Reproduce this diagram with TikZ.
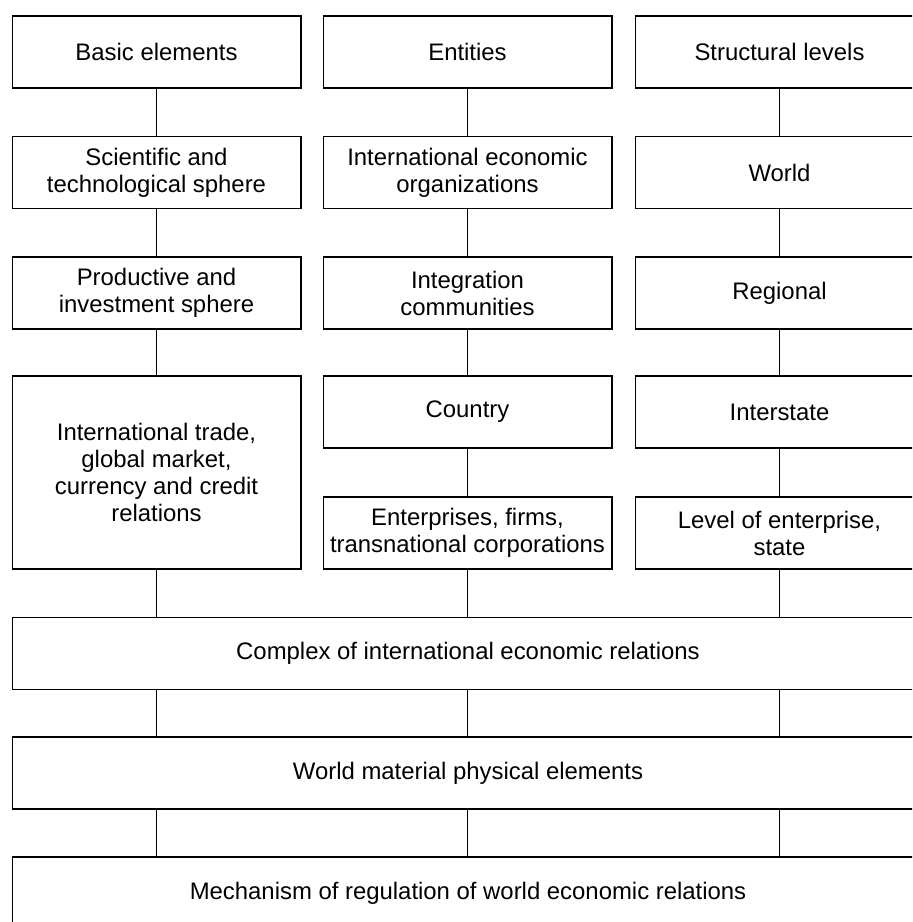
\documentclass[tikz,border=0pt]{standalone}
\usepackage{fontspec}
\setmainfont{Liberation Sans}
\begin{document}
\begin{tikzpicture}[x=0.02cm,y=-0.02cm]
        \tikzset{box/.style={draw,line width=0.6pt,align=center,inner sep=0pt,
                minimum width=5.78cm,minimum height=1.44cm,
                font=\fontsize{13.6}{15.4}\selectfont},
            widebox/.style={box,minimum width=18.24cm},
            link/.style={draw,line width=0.6pt}}
        \useasboundingbox (0,0) rectangle (912,922);
        \clip (0,0) rectangle (912,922);
        % three columns
        \node[box] (basic) at (156.5,52) {Basic elements};
        \node[box] (entities) at (467.5,52) {Entities};
        \node[box] (levels) at (779.5,52) {Structural levels};
        \node[box] (science) at (156.5,172.5) {Scientific and\\technological sphere};
        \node[box] (orgs) at (467.5,172.5) {International economic\\organizations};
        \node[box] (world) at (779.5,172.5) {World};
        \node[box] (production) at (156.5,293) {Productive and\\investment sphere};
        \node[box] (integration) at (467.5,293) {Integration\\communities};
        \node[box] (regional) at (779.5,293) {Regional};
        \node[box,minimum height=3.86cm] (trade) at (156.5,472.5)
            {International trade,\\global market,\\currency and credit\\relations};
        \node[box] (country) at (467.5,412) {Country};
        \node[box] (interstate) at (779.5,412) {Interstate};
        \node[box] (firms) at (467.5,533) {Enterprises, firms,\\transnational corporations};
        \node[box] (enterprise) at (779.5,533) {Level of enterprise,\\state};
        % wide boxes
        \node[widebox] (complex) at (468,653.5) {Complex of international economic relations};
        \node[widebox] (material) at (468,773) {World material physical elements};
        \node[widebox] (regulation) at (468,893) {Mechanism of regulation of world economic relations};
        % links
        \path[link] (basic) -- (science) -- (production) -- (trade)
            (trade.south) -- (trade.south |- complex.north);
        \path[link] (entities) -- (orgs) -- (integration) -- (country) -- (firms)
            (firms.south) -- (firms.south |- complex.north);
        \path[link] (levels) -- (world) -- (regional) -- (interstate) -- (enterprise)
            (enterprise.south) -- (enterprise.south |- complex.north);
        \foreach \col in {trade,firms,enterprise} {
            \path[link] (complex.south -| \col.south) -- (material.north -| \col.south)
                (material.south -| \col.south) -- (regulation.north -| \col.south);
        }
    \end{tikzpicture}
\end{document}
